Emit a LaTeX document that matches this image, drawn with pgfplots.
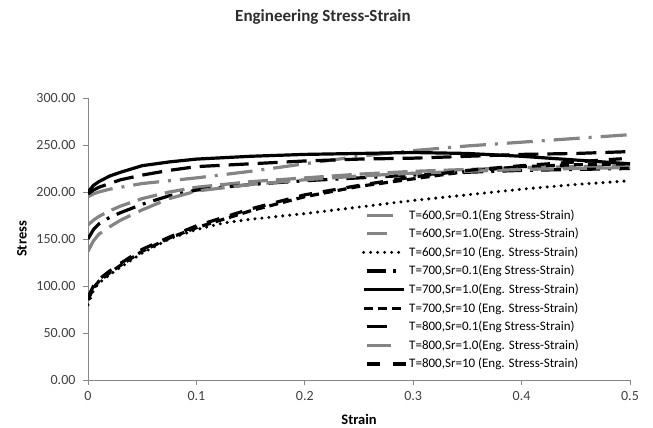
\documentclass[border=0pt]{standalone}
\usepackage{pgfplots}
\pgfplotsset{compat=1.18}
\usepackage{fontspec}
\setmainfont{Carlito}

\definecolor{axgray}{RGB}{134,134,134}
\definecolor{txtgray}{RGB}{64,64,64}
\definecolor{lngray}{RGB}{132,132,132}

\begin{document}
\begin{tikzpicture}
  \useasboundingbox (0,0) rectangle (653pt,428pt);
  \node[font=\fontsize{17}{20}\selectfont\bfseries, text=txtgray!70!black] at (323pt,411pt) {Engineering Stress-Strain};
  \begin{axis}[
      at={(88pt,48pt)}, anchor=south west,
      scale only axis, width=542pt, height=282pt,
      xmin=0, xmax=0.5, ymin=0, ymax=300,
      axis x line=bottom, axis y line=left,
      axis line style={draw=axgray, line width=0.8pt, -},
      xtick={0,0.1,0.2,0.3,0.4,0.5},
      xticklabels={0,0.1,0.2,0.3,0.4,0.5},
      ytick={0,50,100,150,200,250,300},
      yticklabels={0.00,50.00,100.00,150.00,200.00,250.00,300.00},
      tick align=outside, major tick length=5pt,
      tick style={draw=axgray, line width=0.8pt},
      /pgf/number format/assume math mode=true,
      tick label style={font=\fontsize{14}{16}\selectfont, text=txtgray},
      xticklabel style={yshift=-3pt},
      yticklabel style={xshift=-4pt},
      xlabel={\bfseries Strain}, ylabel={\bfseries Stress},
      label style={font=\fontsize{14.5}{16}\selectfont, text=black},
      xlabel style={at={(axis description cs:0.5,-0.14)}, anchor=center},
      ylabel style={at={(axis description cs:-0.122,0.5)}, anchor=center},
      legend cell align=left,
      legend style={at={(axis description cs:0.505,0.612)}, anchor=north west,
        draw=none, fill=none, font=\fontsize{13}{15}\selectfont,
        row sep=3.6pt, inner sep=0pt},
      legend image code/.code={\draw[#1] (0pt,0pt) -- (40pt,0pt);},
      every axis plot/.append style={line width=3.2pt},
    ]
    % T=600, Sr=0.1
    \addplot[lngray, dash pattern=on 26pt off 9pt on 3pt off 9pt,
      legend image code/.code={\draw[lngray, line width=3.2pt] (3pt,0pt) -- (30pt,0pt);}] coordinates {
      (0,195) (0.005,198) (0.01,200) (0.02,203) (0.03,205) (0.05,209) (0.075,212) (0.1,215)
      (0.15,222) (0.2,230) (0.25,238) (0.3,244) (0.35,249) (0.4,253) (0.45,257) (0.5,261)
    };
    \addlegendentry{T=600,Sr=0.1(Eng Stress-Strain)}
    % T=600, Sr=1.0
    \addplot[lngray, dash pattern=on 20pt off 8pt,
      legend image code/.code={\draw[lngray, line width=3.2pt] (3pt,0pt) -- (30pt,0pt);}] coordinates {
      (0,165) (0.005,170) (0.01,174) (0.02,180) (0.03,185) (0.05,193) (0.075,200) (0.1,205)
      (0.15,211) (0.2,215) (0.25,219) (0.3,222) (0.35,224) (0.4,226) (0.45,227) (0.5,228)
    };
    \addlegendentry{T=600,Sr=1.0(Eng. Stress-Strain)}
    % T=600, Sr=10
    \addplot[black, line cap=round, line width=3.4pt, dash pattern=on 0pt off 7pt] coordinates {
      (0,80) (0.005,95) (0.01,103) (0.02,112) (0.03,120) (0.05,135) (0.075,150) (0.1,160)
      (0.125,167) (0.15,171) (0.2,177) (0.25,184) (0.3,191) (0.35,197) (0.4,203) (0.45,208) (0.5,212)
    };
    \addlegendentry{T=600,Sr=10 (Eng. Stress-Strain)}
    % T=700, Sr=0.1
    \addplot[black, dash pattern=on 20pt off 8pt on 3pt off 8pt,
      legend image code/.code={\draw[black, line width=3.2pt] (3pt,0pt) -- (22pt,0pt);
        \draw[black, line width=3.2pt] (29pt,0pt) -- (32pt,0pt);}] coordinates {
      (0,150) (0.005,160) (0.01,166) (0.02,173) (0.03,178) (0.05,187) (0.075,196) (0.1,202)
      (0.15,208) (0.2,212) (0.25,215) (0.3,218) (0.35,221) (0.4,223) (0.45,224) (0.5,225)
    };
    \addlegendentry{T=700,Sr=0.1(Eng Stress-Strain)}
    % T=700, Sr=1.0
    \addplot[black] coordinates {
      (0,200) (0.005,207) (0.01,211) (0.02,217) (0.03,221) (0.05,228) (0.075,232) (0.1,235)
      (0.15,238) (0.2,240) (0.25,241) (0.3,242) (0.35,241) (0.4,238) (0.45,234) (0.5,230)
    };
    \addlegendentry{T=700,Sr=1.0(Eng. Stress-Strain)}
    % T=700, Sr=10
    \addplot[black, dash pattern=on 9pt off 5pt] coordinates {
      (0,85) (0.005,98) (0.01,105) (0.02,114) (0.03,122) (0.05,137) (0.075,151) (0.1,162)
      (0.15,180) (0.2,195) (0.25,206) (0.3,214) (0.35,222) (0.4,227) (0.45,229) (0.5,230)
    };
    \addlegendentry{T=700,Sr=10 (Eng. Stress-Strain)}
    % T=800, Sr=0.1
    \addplot[black, dash pattern=on 20pt off 9pt,
      legend image code/.code={\draw[black, line width=3.2pt] (3pt,0pt) -- (30pt,0pt);}] coordinates {
      (0,198) (0.005,202) (0.01,205) (0.02,209) (0.03,213) (0.05,218) (0.075,223) (0.1,227)
      (0.15,230) (0.2,233) (0.25,235) (0.3,236) (0.35,238) (0.4,240) (0.45,241) (0.5,243)
    };
    \addlegendentry{T=800,Sr=0.1(Eng Stress-Strain)}
    % T=800, Sr=1.0
    \addplot[lngray, dash pattern=on 24pt off 9pt,
      legend image code/.code={\draw[lngray, line width=3.2pt] (3pt,0pt) -- (30pt,0pt);}] coordinates {
      (0,137) (0.005,148) (0.01,155) (0.02,163) (0.03,170) (0.05,181) (0.075,193) (0.1,201)
      (0.15,208) (0.2,213) (0.25,217) (0.3,220) (0.35,222) (0.4,224) (0.45,225) (0.5,226)
    };
    \addlegendentry{T=800,Sr=1.0(Eng. Stress-Strain)}
    % T=800, Sr=10
    \addplot[black, dash pattern=on 13pt off 11pt,
      legend image code/.code={\draw[black, line width=3.2pt] (3pt,0pt) -- (17pt,0pt);
        \draw[black, line width=3.2pt] (29pt,0pt) -- (42pt,0pt);}] coordinates {
      (0,88) (0.005,100) (0.01,107) (0.02,116) (0.03,124) (0.05,139) (0.075,152) (0.1,164)
      (0.15,182) (0.2,197) (0.25,207) (0.3,216) (0.35,223) (0.4,228) (0.45,232) (0.5,236)
    };
    \addlegendentry{T=800,Sr=10 (Eng. Stress-Strain)}
  \end{axis}
\end{tikzpicture}
\end{document}
